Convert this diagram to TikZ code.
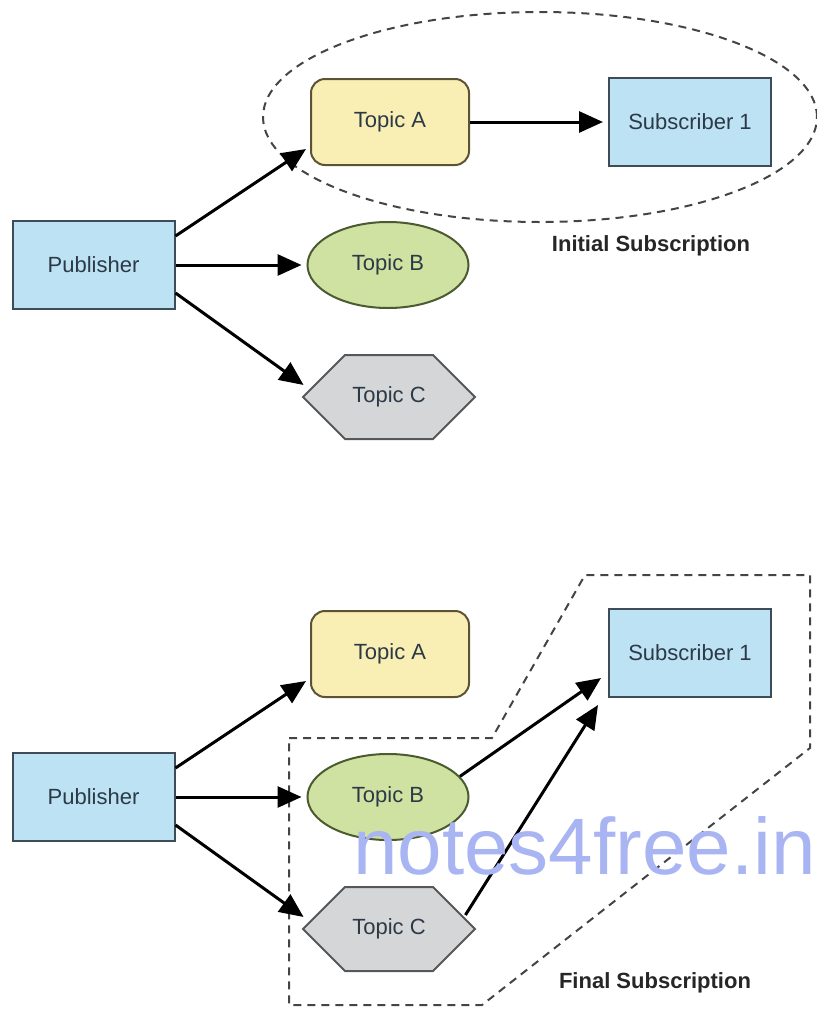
\documentclass[tikz,border=0pt]{standalone}
\usepackage{fontspec}
\setmainfont{Liberation Sans}
\usetikzlibrary{arrows.meta,shapes.symbols,shapes.geometric,calc}
\definecolor{boxblue}{HTML}{BCE2F3}
\definecolor{boxblueline}{HTML}{3E4C58}
\definecolor{topicyellow}{HTML}{F9EFB4}
\definecolor{topicyellowline}{HTML}{5C5334}
\definecolor{topicgreen}{HTML}{D0E2A2}
\definecolor{topicgreenline}{HTML}{4B5A31}
\definecolor{topicgray}{HTML}{D5D6D8}
\definecolor{topicgrayline}{HTML}{555759}
\definecolor{labeltext}{HTML}{2C3946}
\definecolor{dashgray}{HTML}{444444}
\definecolor{watermark}{HTML}{A9B5F2}
\begin{document}
\begin{tikzpicture}[x=1pt,y=-1pt,
  lbl/.style={font=\fontsize{22}{26}\selectfont, text=labeltext},
  bluebox/.style={lbl, draw=boxblueline, line width=2pt, fill=boxblue, minimum width=162pt, minimum height=88pt, inner sep=0pt},
  topica/.style={lbl, draw=topicyellowline, line width=2pt, fill=topicyellow, rounded corners=14pt, minimum width=158pt, minimum height=86pt, inner sep=0pt},
  topicb/.style={lbl, draw=topicgreenline, line width=2pt, fill=topicgreen, ellipse, minimum width=161pt, minimum height=86pt, inner sep=0pt},
  topicc/.style={lbl, draw=topicgrayline, line width=2pt, fill=topicgray, signal, signal to=west and east, signal pointer angle=90, minimum width=172pt, minimum height=84pt, inner sep=0pt},
  arr/.style={line width=3pt, -{Triangle[length=24pt,width=21pt]}},
  grp/.style={draw=dashgray, line width=2pt, dash pattern=on 8pt off 6pt},
  caption/.style={font=\bfseries\fontsize{22}{26}\selectfont, text=black!85}
]
\useasboundingbox (0,0) rectangle (817,1010);

% ---------- top: initial subscription ----------
\draw[grp] (540,117) ellipse [x radius=277pt, y radius=105pt];
\node[bluebox] (pub1) at (93.5,265) {Publisher};
\node[topica] (ta1) at (390,122) {Topic A};
\node[bluebox] (sub1) at (690,122) {Subscriber 1};
\node[topicb] (tb1) at (388,265) {Topic B};
\node[topicc] (tc1) at (389,397) {Topic C};
\node[caption] (cap1) at (651,246) {Initial Subscription};

\draw[arr] ($(pub1.east)+(0,-29)$) -- ($(ta1.south west)+(-4,-17)$);
\draw[arr] (pub1.east) -- ($(tb1.west)+(-5,0)$);
\draw[arr] ($(pub1.east)+(0,28)$) -- ($(tc1.west)+(2,-12)$);
\draw[arr] (ta1.east) -- ($(sub1.west)+(-5,0)$);

% ---------- bottom: final subscription ----------
\draw[grp] (289,738) -- (492,738) -- (585,575) -- (810,575) -- (810,748) -- (482,1005) -- (289,1005) -- cycle;
\node[bluebox] (pub2) at (93.5,797) {Publisher};
\node[topica] (ta2) at (390,654) {Topic A};
\node[bluebox] (sub2) at (690,653) {Subscriber 1};
\node[topicb] (tb2) at (388,797) {Topic B};
\node[topicc] (tc2) at (389,929) {Topic C};
\node[caption] (cap2) at (655,983) {Final Subscription};

\draw[arr] ($(pub2.east)+(0,-29)$) -- ($(ta2.south west)+(-4,-17)$);
\draw[arr] (pub2.east) -- ($(tb2.west)+(-5,0)$);
\draw[arr] ($(pub2.east)+(0,28)$) -- ($(tc2.west)+(2,-12)$);
\draw[arr] (tb2.16) -- ($(sub2.west)+(-7,25)$);
\draw[arr] ($(tc2.east)+(-11,-14)$) -- ($(sub2.west)+(-10,52)$);

% ---------- watermark ----------
\node[anchor=base west, inner sep=0pt, text=watermark, font=\fontsize{80}{90}\selectfont] (wm) at (353,874) {notes4free.in};
\end{tikzpicture}
\end{document}
